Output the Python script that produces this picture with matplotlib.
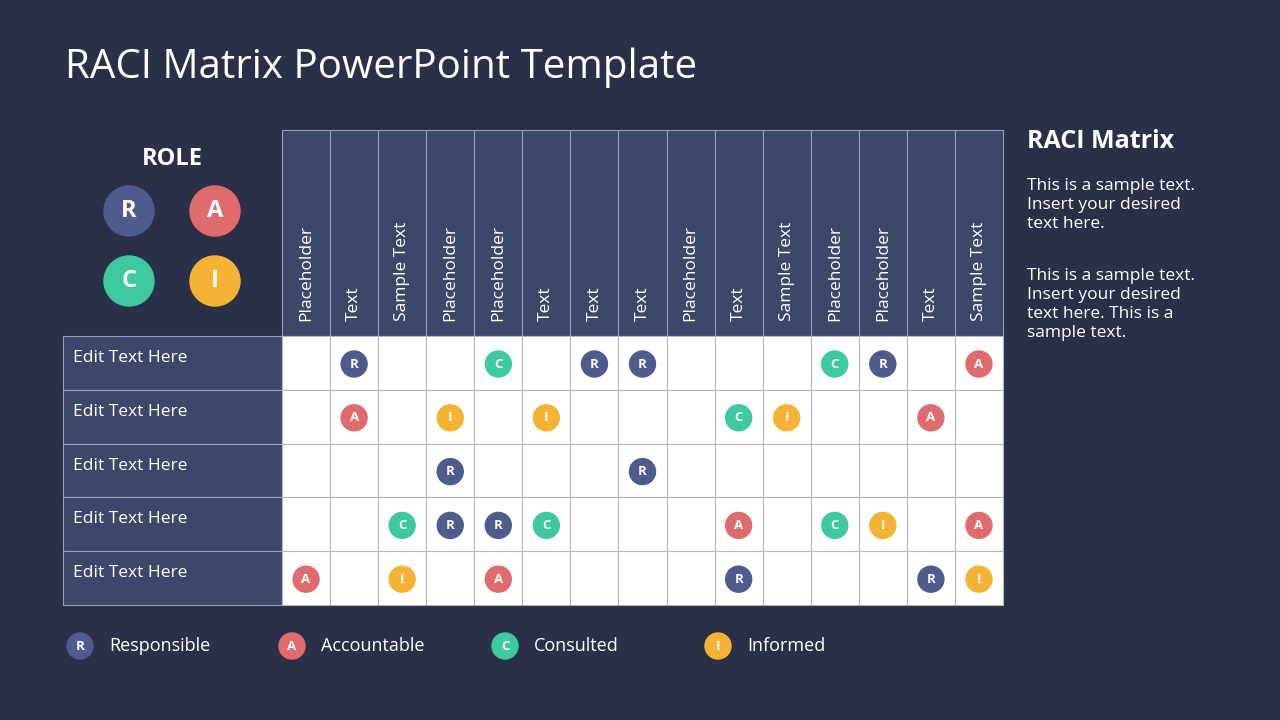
import matplotlib

matplotlib.use("Agg")
import matplotlib.pyplot as plt
from matplotlib.patches import Rectangle, Circle

BG = "#2b3049"
HEADER = "#3d4769"
ROLE_COLORS = {"R": "#4f5b8c", "A": "#e06b6e", "C": "#3fc9a0", "I": "#f5b335"}
ROLE_NAMES = {"R": "Responsible", "A": "Accountable", "C": "Consulted", "I": "Informed"}

columns = ["Placeholder", "Text", "Sample Text", "Placeholder", "Placeholder", "Text",
           "Text", "Text", "Placeholder", "Text", "Sample Text", "Placeholder",
           "Placeholder", "Text", "Sample Text"]
rows = ["Edit Text Here"] * 5
# one string per row, one character per column ("." = empty)
matrix = [
    ".R..C.RR...CR.A",
    ".A.I.I...CI..A.",
    "...R...R.......",
    "..CRRC...A.CI.A",
    "A.I.A....R...RI",
]

plt.rcParams["font.family"] = ["Open Sans", "DejaVu Sans"]
fig = plt.figure(figsize=(12.8, 7.2), dpi=100, facecolor=BG)
ax = fig.add_axes([0, 0, 1, 1])
ax.set_xlim(0, 1280)
ax.set_ylim(720, 0)
ax.set_axis_off()
ax.set_facecolor(BG)

ax.text(65, 68, "RACI Matrix PowerPoint Template", color="white", fontsize=29, va="center")

x0, x1 = 282, 1003
top, head_bot, bot = 130, 336, 605
lab_x = 63
cw = (x1 - x0) / len(columns)
rh = (bot - head_bot) / len(rows)

# header cells
for j, name in enumerate(columns):
    cx = x0 + j * cw
    ax.add_patch(Rectangle((cx, top), cw, head_bot - top, facecolor=HEADER,
                           edgecolor="#9aa0b5", lw=0.8))
    ax.text(cx + cw / 2, head_bot - 15, name, color="white", fontsize=12.5,
            rotation=90, ha="center", va="bottom")

# row labels and body cells
for i, label in enumerate(rows):
    ry = head_bot + i * rh
    ax.add_patch(Rectangle((lab_x, ry), x0 - lab_x, rh, facecolor=HEADER,
                           edgecolor="#9aa0b5", lw=0.8))
    ax.text(lab_x + 10, ry + 22, label, color="white", fontsize=12.5, va="center")
    for j, code in enumerate(matrix[i]):
        cx = x0 + j * cw
        ax.add_patch(Rectangle((cx, ry), cw, rh, facecolor="white",
                               edgecolor="#b5b5b5", lw=0.8))
        if code != ".":
            ax.add_patch(Circle((cx + cw / 2, ry + 28), 13, color=ROLE_COLORS[code], zorder=3))
            ax.text(cx + cw / 2, ry + 28, code, color="white", fontsize=9.5,
                    weight="bold", ha="center", va="center", zorder=4)

# ROLE block
ax.text(172, 159, "ROLE", color="white", fontsize=17, weight="bold", ha="center", va="center")
for code, (px, py) in zip("RACI", [(129, 211), (215, 211), (129, 281), (215, 281)]):
    ax.add_patch(Circle((px, py), 25, color=ROLE_COLORS[code]))
    ax.text(px, py, code, color="white", fontsize=17, weight="bold", ha="center", va="center")

# legend
for code, lx in zip("RACI", [80, 292, 505, 718]):
    ax.add_patch(Circle((lx, 646), 13, color=ROLE_COLORS[code]))
    ax.text(lx, 646, code, color="white", fontsize=9.5, weight="bold", ha="center", va="center")
    ax.text(lx + 29, 646, ROLE_NAMES[code], color="white", fontsize=13, va="center")

# side text
ax.text(1027, 141, "RACI Matrix", color="white", fontsize=18, weight="bold", va="center")
ax.text(1027, 178, "This is a sample text.\nInsert your desired\ntext here.",
        color="white", fontsize=12.5, va="top", linespacing=1.25)
ax.text(1027, 268, "This is a sample text.\nInsert your desired\ntext here. This is a\nsample text.",
        color="white", fontsize=12.5, va="top", linespacing=1.25)

fig.savefig("out.png", dpi=100, facecolor=BG)
